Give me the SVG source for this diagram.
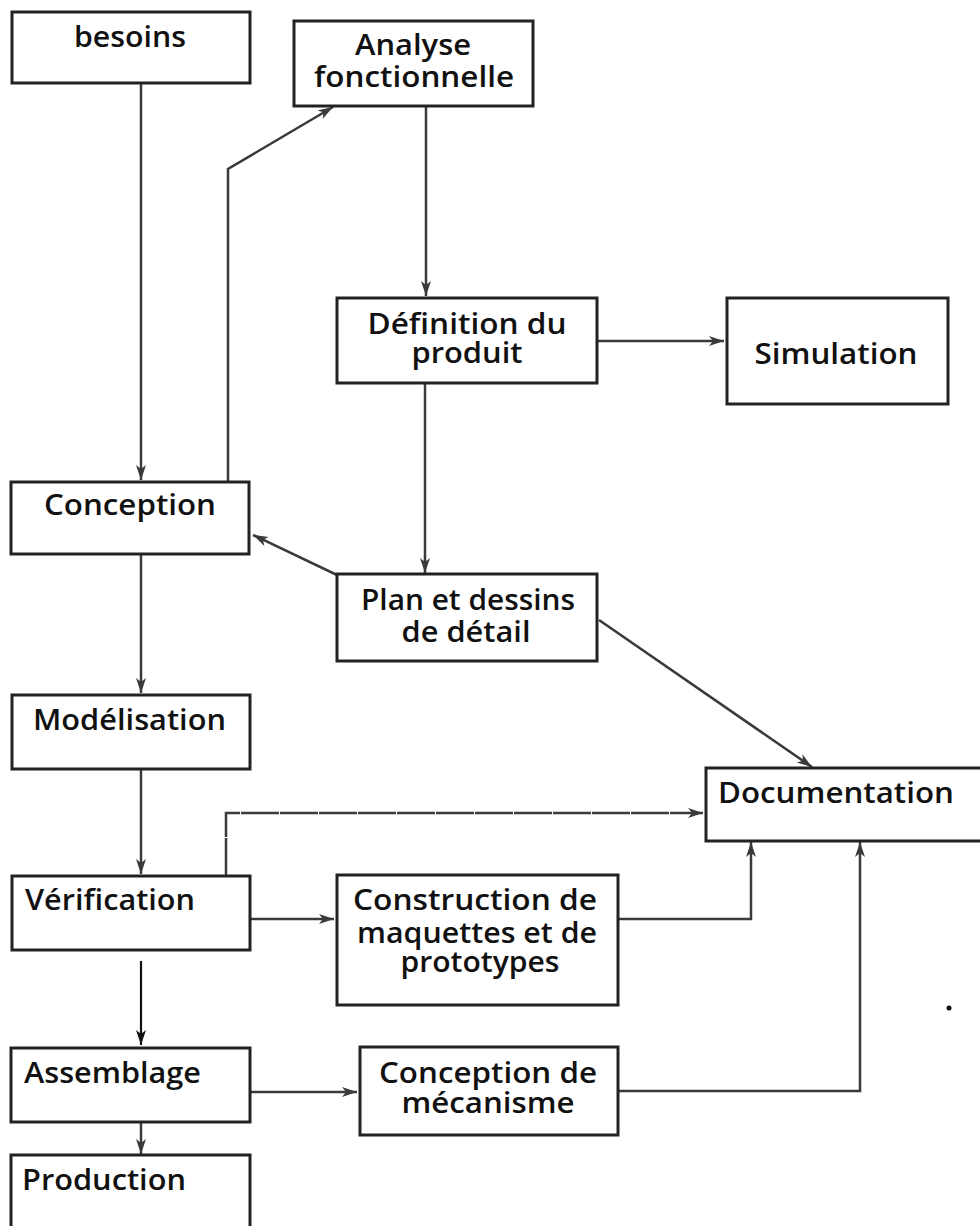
<svg xmlns="http://www.w3.org/2000/svg" width="980" height="1226" viewBox="0 0 980 1226">
<style>
.box{fill:#fff;stroke:#222;stroke-width:3}
.lbl{font-family:"Open Sans","Liberation Sans",sans-serif;font-weight:600;font-size:28.5px;fill:#111}
.c{text-anchor:middle}
.con{fill:none;stroke:#3a3a3a;stroke-width:2.5}
</style>
<defs>
<marker id="ah" markerUnits="userSpaceOnUse" markerWidth="16" markerHeight="12" refX="15" refY="5" orient="auto">
<path d="M0,0 L15,5 L0,10 L4,5 z" fill="#3a3a3a"/>
</marker>
<marker id="ahb" markerUnits="userSpaceOnUse" markerWidth="16" markerHeight="12" refX="15" refY="5" orient="auto">
<path d="M0,0 L15,5 L0,10 L4,5 z" fill="#111"/>
</marker>
</defs>
<rect width="980" height="1226" fill="#fff"/>
<g id="connectors">
<path class="con" d="M141,83 V480" marker-end="url(#ah)"/>
<path class="con" d="M228,490 V169 L333,107" marker-end="url(#ah)"/>
<path class="con" d="M426,106 V296" marker-end="url(#ah)"/>
<path class="con" d="M597,341 H724" marker-end="url(#ah)"/>
<path class="con" d="M425,383 V573" marker-end="url(#ah)"/>
<path class="con" d="M337,575 L253,535" marker-end="url(#ah)"/>
<path class="con" d="M599,620 L812,767" marker-end="url(#ah)"/>
<path class="con" d="M141,554 V693" marker-end="url(#ah)"/>
<path class="con" d="M141,769 V874" marker-end="url(#ah)"/>
<path class="con" d="M226,876 V813 H703" stroke-dasharray="38 1" marker-end="url(#ah)"/>
<path class="con" d="M250,919 H334" marker-end="url(#ah)"/>
<path class="con" d="M618,919 H751 V842" marker-end="url(#ah)"/>
<path fill="none" stroke="#111" stroke-width="2.2" d="M141,961 V1045" marker-end="url(#ahb)"/>
<path class="con" d="M250,1092 H357" marker-end="url(#ah)"/>
<path class="con" d="M618,1091 H860 V842" marker-end="url(#ah)"/>
<path class="con" d="M141,1113 V1154" marker-end="url(#ah)"/>
</g>
<g id="besoins"><rect class="box" x="12" y="12" width="238" height="71"/><text class="lbl c" x="130" y="47" textLength="112" lengthAdjust="spacingAndGlyphs">besoins</text></g>
<g id="analyse"><rect class="box" x="294" y="21" width="239" height="85"/><text class="lbl c" x="413" y="55" textLength="116" lengthAdjust="spacingAndGlyphs">Analyse</text><text class="lbl c" x="414" y="87" textLength="200" lengthAdjust="spacingAndGlyphs">fonctionnelle</text></g>
<g id="definition"><rect class="box" x="337" y="298" width="260" height="85"/><text class="lbl c" x="467" y="334" textLength="199" lengthAdjust="spacingAndGlyphs">Définition du</text><text class="lbl c" x="467" y="363" textLength="111" lengthAdjust="spacingAndGlyphs">produit</text></g>
<g id="simulation"><rect class="box" x="727" y="298" width="221" height="106"/><text class="lbl c" x="836" y="364" textLength="163" lengthAdjust="spacingAndGlyphs">Simulation</text></g>
<g id="conception"><rect class="box" x="11" y="482" width="238" height="72"/><text class="lbl c" x="130" y="515" textLength="172" lengthAdjust="spacingAndGlyphs">Conception</text></g>
<g id="plan"><rect class="box" x="337" y="574" width="260" height="87"/><text class="lbl c" x="468" y="610" textLength="214" lengthAdjust="spacingAndGlyphs">Plan et dessins</text><text class="lbl c" x="466" y="642" textLength="129" lengthAdjust="spacingAndGlyphs">de détail</text></g>
<g id="modelisation"><rect class="box" x="12" y="695" width="238" height="74"/><text class="lbl" x="33" y="730" textLength="193" lengthAdjust="spacingAndGlyphs">Modélisation</text></g>
<g id="documentation"><rect class="box" x="706" y="768" width="290" height="73"/><text class="lbl" x="718" y="803" textLength="236" lengthAdjust="spacingAndGlyphs">Documentation</text></g>
<g id="verification"><rect class="box" x="12" y="876" width="238" height="74"/><text class="lbl" x="25" y="910" textLength="170" lengthAdjust="spacingAndGlyphs">Vérification</text></g>
<g id="construction"><rect class="box" x="337" y="875" width="281" height="130"/><text class="lbl c" x="475" y="910" textLength="244" lengthAdjust="spacingAndGlyphs">Construction de</text><text class="lbl c" x="477" y="943" textLength="240" lengthAdjust="spacingAndGlyphs">maquettes et de</text><text class="lbl c" x="480" y="972" textLength="159" lengthAdjust="spacingAndGlyphs">prototypes</text></g>
<g id="assemblage"><rect class="box" x="11" y="1048" width="239" height="74"/><text class="lbl" x="24" y="1083" textLength="177" lengthAdjust="spacingAndGlyphs">Assemblage</text></g>
<g id="mecanisme"><rect class="box" x="360" y="1047" width="258" height="88"/><text class="lbl c" x="488" y="1083" textLength="218" lengthAdjust="spacingAndGlyphs">Conception de</text><text class="lbl c" x="488" y="1113" textLength="173" lengthAdjust="spacingAndGlyphs">mécanisme</text></g>
<g id="production"><rect class="box" x="11" y="1155" width="239" height="80"/><text class="lbl" x="22" y="1190" textLength="164" lengthAdjust="spacingAndGlyphs">Production</text></g>
<circle cx="949" cy="1008" r="2.5" fill="#111"/>
</svg>
